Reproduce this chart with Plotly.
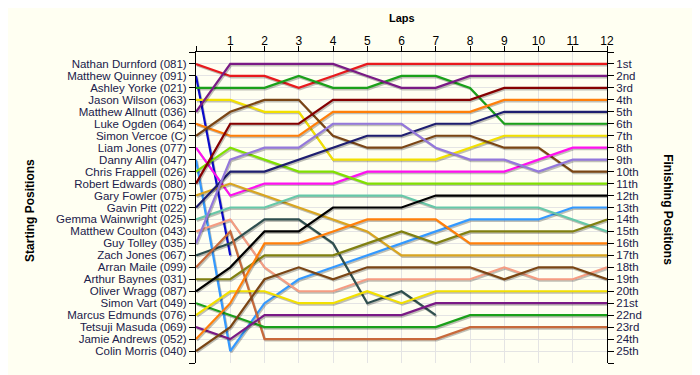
import plotly.graph_objects as go

drivers = ["Nathan Durnford (081)", "Matthew Quinney (091)", "Ashley Yorke (021)",
           "Jason Wilson (063)", "Matthew Allnutt (036)", "Luke Ogden (064)",
           "Simon Vercoe (C)", "Liam Jones (077)", "Danny Allin (047)",
           "Chris Frappell (026)", "Robert Edwards (080)", "Gary Fowler (075)",
           "Gavin Pitt (022)", "Gemma Wainwright (025)", "Matthew Coulton (043)",
           "Guy Tolley (035)", "Zach Jones (067)", "Arran Maile (099)",
           "Arthur Baynes (031)", "Oliver Wragg (087)", "Simon Vart (049)",
           "Marcus Edmunds (076)", "Tetsuji Masuda (069)", "Jamie Andrews (052)",
           "Colin Morris (040)"]

# positions per lap (lap 0 = start)
nathan_durnford = [1, 2, 2, 3, 2, 1, 1, 1, 1, 1, 1, 1, 1]
matthew_quinney = [2, 17]
ashley_yorke = [3, 3, 3, 2, 3, 3, 2, 2, 3, 6, 6, 6, 6]
jason_wilson = [4, 4, 5, 5, 9, 9, 9, 9, 8, 7, 7, 7, 7]
matthew_allnutt = [5, 1, 1, 1, 1, 2, 3, 3, 2, 2, 2, 2, 2]
luke_ogden = [6, 7, 7, 7, 5, 5, 5, 5, 5, 4, 4, 4, 4]
simon_vercoe = [7, 5, 4, 4, 7, 8, 8, 7, 7, 8, 8, 10, 10]
liam_jones = [8, 12, 11, 11, 11, 10, 10, 10, 10, 10, 9, 8, 8]
danny_allin = [9, 25, 21, 19, 18, 17, 16, 15, 14, 14, 14, 13, 13]
chris_frappell = [10, 8, 9, 10, 10, 11, 11, 11, 11, 11, 11, 11, 11]
robert_edwards = [11, 6, 6, 6, 4, 4, 4, 4, 4, 3, 3, 3, 3]
gary_fowler = [12, 11, 12, 13, 14, 15, 17, 17, 17, 17, 17, 17, 17]
gavin_pitt = [13, 10, 10, 9, 8, 7, 7, 6, 6, 5, 5, 5, 5]
gemma_wainwright = [14, 13, 13, 12, 12, 12, 12, 13, 13, 13, 13, 14, 15]
matthew_coulton = [15, 14, 18, 20, 20, 19, 19, 19, 19, 18, 19, 19, 18]
guy_tolley = [16, 9, 8, 8, 6, 6, 6, 8, 9, 9, 10, 9, 9]
zach_jones = [17, 16, 14, 14, 16, 21, 20, 22]
arran_maile = [18, 15, 24, 24, 24, 24, 24, 24, 23, 23, 23, 23, 23]
arthur_baynes = [19, 19, 17, 17, 17, 16, 15, 16, 15, 15, 15, 15, 14]
oliver_wragg = [20, 18, 15, 15, 13, 13, 13, 12, 12, 12, 12, 12, 12]
simon_vart = [21, 22, 23, 23, 23, 23, 23, 23, 22, 22, 22, 22, 22]
marcus_edmunds = [22, 20, 20, 21, 21, 20, 21, 20, 20, 20, 20, 20, 20]
tetsuji_masuda = [23, 24, 22, 22, 22, 22, 22, 21, 21, 21, 21, 21, 21]
jamie_andrews = [24, 21, 16, 16, 15, 14, 14, 14, 16, 16, 16, 16, 16]
colin_morris = [25, 23, 19, 18, 19, 18, 18, 18, 18, 19, 18, 18, 19]

series = [nathan_durnford, matthew_quinney, ashley_yorke, jason_wilson, matthew_allnutt,
          luke_ogden, simon_vercoe, liam_jones, danny_allin, chris_frappell,
          robert_edwards, gary_fowler, gavin_pitt, gemma_wainwright, matthew_coulton,
          guy_tolley, zach_jones, arran_maile, arthur_baynes, oliver_wragg, simon_vart,
          marcus_edmunds, tetsuji_masuda, jamie_andrews, colin_morris]

lap_labels = ["", "1", "2", "3", "4", "5", "6", "7", "8", "9", "10", "11", "12"]
finish_labels = ["1st", "2nd", "3rd", "4th", "5th", "6th", "7th", "8th", "9th", "10th",
                 "11th", "12th", "13th", "14th", "15th", "16th", "17th", "18th", "19th",
                 "20th", "21st", "22nd", "23rd", "24th", "25th"]

colors = ["#E8191C", "#0A0ACC", "#1AA01A", "#F2E000", "#7A1A85", "#FF7F0A", "#7A4514",
          "#FF10F0", "#3399FF", "#80E000", "#850000", "#D9A520", "#1E1E70", "#66C8A8",
          "#F59C82", "#9478DB", "#2F4F4F", "#C8693A", "#808010", "#000000", "#1AA01A",
          "#F2E000", "#7A1A85", "#FF7F0A", "#7A4514"]

fig = go.Figure()
for vals, col in zip(series, colors):
    laps = list(range(len(vals)))
    fig.add_trace(go.Scatter(x=[l + 0.03 for l in laps], y=[v + 0.12 for v in vals],
                             mode="lines", line=dict(color="rgba(0,0,0,0.25)", width=2.2),
                             hoverinfo="skip", showlegend=False))
    fig.add_trace(go.Scatter(x=laps, y=vals, mode="lines",
                             line=dict(color=col, width=2.2),
                             hoverinfo="skip", showlegend=False))

fig.add_trace(go.Scatter(x=[None], y=[None], yaxis="y2", showlegend=False, hoverinfo="skip"))

font_main = "Liberation Sans, Arial, sans-serif"
txt = "#20204a"
ypos = list(range(0, 27))
fig.update_layout(
    width=692, height=367,
    margin=dict(l=188, r=93, t=44, b=12, autoexpand=False),
    paper_bgcolor="#FFFFF2", plot_bgcolor="#FFFFF2",
    font=dict(family=font_main, size=11.5, color=txt),
    xaxis=dict(side="top", range=[0, 12], tickvals=list(range(13)), ticktext=lap_labels,
               showline=True, linecolor="black", linewidth=1, ticks="outside",
               ticklen=5, tickcolor="black", showgrid=True, gridcolor="#E4E4E4",
               zeroline=False, automargin=False, ticklabelstandoff=-4,
               tickfont=dict(size=12, color="black")),
    yaxis=dict(range=[26, 0], tickvals=ypos, ticktext=[""] + drivers + [""],
               showline=True, linecolor="black", linewidth=1, ticks="outside",
               ticklen=6, tickcolor="black", showgrid=True, gridcolor="#E4E4E4",
               zeroline=False, automargin=False, tickfont=dict(size=11.5, color=txt)),
    yaxis2=dict(range=[26, 0], overlaying="y", side="right", tickvals=ypos,
                ticktext=[""] + finish_labels + [""], showline=True, linecolor="black",
                linewidth=1, ticks="outside", ticklen=6, tickcolor="black",
                showgrid=False, zeroline=False, automargin=False,
                tickfont=dict(size=11.5, color=txt)),
    annotations=[
        dict(text="<b>Laps</b>", xref="paper", yref="paper", x=0.5, y=1.109,
             showarrow=False, font=dict(size=11, color="black"), xanchor="center",
             yanchor="middle"),
        dict(text="<b>Starting Positions</b>", xref="paper", yref="paper", x=-0.404,
             y=0.492, showarrow=False, textangle=-90, font=dict(size=12, color="black"),
             xanchor="center", yanchor="middle"),
        dict(text="<b>Finishing Positions</b>", xref="paper", yref="paper", x=1.148,
             y=0.492, showarrow=False, textangle=90, font=dict(size=12, color="black"),
             xanchor="center", yanchor="middle"),
    ],
)

fig.write_html("out.html")
